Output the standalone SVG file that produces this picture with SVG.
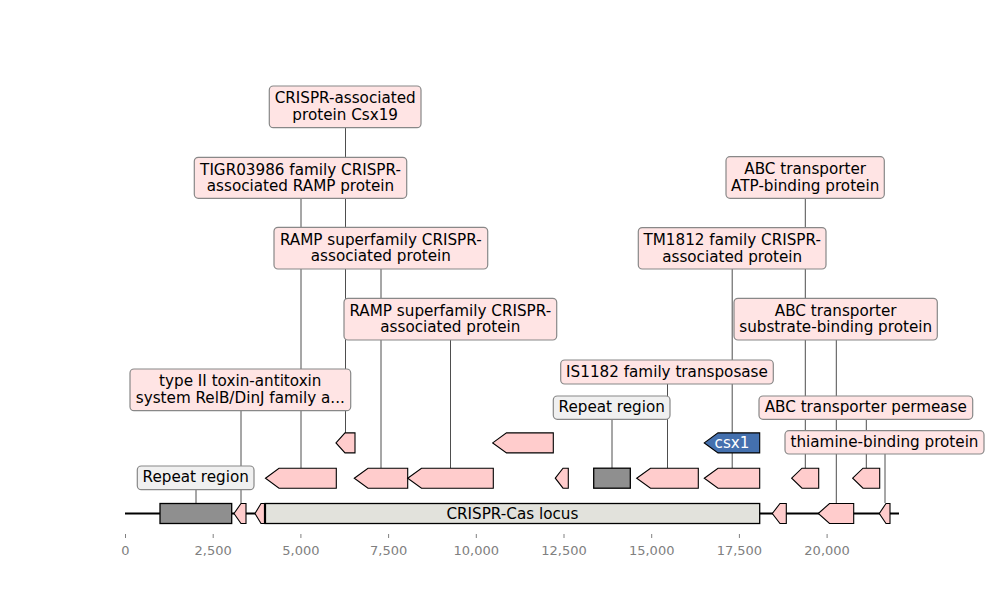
<svg xmlns="http://www.w3.org/2000/svg" width="1000" height="600" viewBox="0 0 1000 600">
<style>
text{font-family:"DejaVu Sans","Liberation Sans",sans-serif;}
.lbl{font-size:15.2px;fill:#000;text-anchor:middle;}
.box{fill:#ffe4e4;stroke:#888;stroke-width:1.2;}
.rbox{fill:#f0f0f0;stroke:#888;stroke-width:1.2;}
.gene{fill:#ffcccc;stroke:#000;stroke-width:1.1;stroke-linejoin:miter;}
.rep{fill:#8f8f8f;stroke:#000;stroke-width:1.3;}
.conn line{stroke:#3a3a3a;stroke-width:0.9;}
.tick{stroke:#808080;stroke-width:1;}
.tl{font-size:13px;fill:#808080;text-anchor:middle;}
</style>
<rect width="1000" height="600" fill="#fff"/>
<g id="connectors" class="conn">
<line x1="345.5" y1="127.7" x2="345.5" y2="433"/>
<line x1="301" y1="198.3" x2="301" y2="468"/>
<line x1="381" y1="269" x2="381" y2="468"/>
<line x1="450.5" y1="340" x2="450.5" y2="468"/>
<line x1="805.3" y1="198.3" x2="805.3" y2="468"/>
<line x1="732.2" y1="269" x2="732.2" y2="468"/>
<line x1="836.3" y1="340" x2="836.3" y2="503"/>
<line x1="241" y1="410.7" x2="241" y2="503"/>
<line x1="667.5" y1="384" x2="667.5" y2="468"/>
<line x1="612" y1="419.3" x2="612" y2="468"/>
<line x1="866.3" y1="419.3" x2="866.3" y2="468"/>
<line x1="885" y1="454" x2="885" y2="503"/>
<line x1="196" y1="489.7" x2="196" y2="503"/>
</g>
<g id="axis">
<line x1="125" y1="513.5" x2="899" y2="513.5" stroke="#000" stroke-width="2"/>
<g class="tick">
<line x1="125.5" y1="534" x2="125.5" y2="538"/>
<line x1="213.2" y1="534" x2="213.2" y2="538"/>
<line x1="300.9" y1="534" x2="300.9" y2="538"/>
<line x1="388.6" y1="534" x2="388.6" y2="538"/>
<line x1="476.3" y1="534" x2="476.3" y2="538"/>
<line x1="564" y1="534" x2="564" y2="538"/>
<line x1="651.7" y1="534" x2="651.7" y2="538"/>
<line x1="739.4" y1="534" x2="739.4" y2="538"/>
<line x1="827.1" y1="534" x2="827.1" y2="538"/>
</g>
<text class="tl" x="125.5" y="555">0</text>
<text class="tl" x="213.2" y="555">2,500</text>
<text class="tl" x="300.9" y="555">5,000</text>
<text class="tl" x="388.6" y="555">7,500</text>
<text class="tl" x="476.3" y="555">10,000</text>
<text class="tl" x="564" y="555">12,500</text>
<text class="tl" x="651.7" y="555">15,000</text>
<text class="tl" x="739.4" y="555">17,500</text>
<text class="tl" x="827.1" y="555">20,000</text>
</g>
<g id="features">
<rect id="repeat1" class="rep" x="160" y="503.5" width="71.7" height="20"/>
<polygon id="f-row1-a" class="gene" points="234,513.5 241,503.5 246,503.5 246,523.5 241,523.5"/>
<rect id="crispr-locus" x="265" y="503.5" width="494.7" height="20" fill="#e2e2dc" stroke="#000" stroke-width="1.3"/>
<polygon id="f-row1-b" class="gene" points="255,513.5 261,503.5 265,503.5 265,523.5 261,523.5"/>
<line x1="265" y1="503.5" x2="265" y2="523.5" stroke="#000" stroke-width="2.2"/>
<text x="512.4" y="518.8" style="font-size:15.2px;text-anchor:middle" fill="#000">CRISPR-Cas locus</text>
<polygon id="f-row1-c" class="gene" points="772.3,513.5 780,503.5 786.3,503.5 786.3,523.5 780,523.5"/>
<polygon id="f-row1-d" class="gene" points="818.3,513.5 829.5,503.5 853.7,503.5 853.7,523.5 829.5,523.5"/>
<polygon id="f-row1-e" class="gene" points="879.3,513.5 886,503.5 890,503.5 890,523.5 886,523.5"/>

<polygon id="f-row2-a" class="gene" points="265.5,478.2 279,468.2 336.3,468.2 336.3,488.2 279,488.2"/>
<polygon id="f-row2-b" class="gene" points="354.3,478.2 368,468.2 407.7,468.2 407.7,488.2 368,488.2"/>
<polygon id="f-row2-c" class="gene" points="407.7,478.2 421.5,468.2 493.3,468.2 493.3,488.2 421.5,488.2"/>
<polygon id="f-row2-d" class="gene" points="555.3,478.2 563,468.2 568.3,468.2 568.3,488.2 563,488.2"/>
<rect id="repeat2" class="rep" x="593.7" y="468.2" width="36.6" height="20"/>
<polygon id="f-row2-e" class="gene" points="636.7,478.2 650.5,468.2 698.3,468.2 698.3,488.2 650.5,488.2"/>
<polygon id="f-row2-f" class="gene" points="704.3,478.2 718,468.2 759.7,468.2 759.7,488.2 718,488.2"/>
<polygon id="f-row2-g" class="gene" points="791.7,478.2 802,468.2 818.7,468.2 818.7,488.2 802,488.2"/>
<polygon id="f-row2-h" class="gene" points="852.7,478.2 863,468.2 879.7,468.2 879.7,488.2 863,488.2"/>

<polygon id="f-row3-a" class="gene" points="336,442.9 345,432.9 355,432.9 355,452.9 345,452.9"/>
<polygon id="f-row3-b" class="gene" points="492.7,442.9 506.5,432.9 553.3,432.9 553.3,452.9 506.5,452.9"/>
<g id="csx1">
<polygon points="704.3,442.9 718,432.9 759.7,432.9 759.7,452.9 718,452.9" fill="#4470ae" stroke="#000" stroke-width="1.1"/>
<text x="732" y="448.2" style="font-size:15.2px;text-anchor:middle" fill="#fff">csx1</text>
</g>
</g>
<g id="label-csx19">
<rect class="box" x="269.3" y="86" width="151.7" height="41.7" rx="4"/>
<text class="lbl" x="345.2" y="103.3">CRISPR-associated</text>
<text class="lbl" x="345.2" y="120">protein Csx19</text>
</g>
<g id="label-tigr">
<rect class="box" x="194.3" y="157.3" width="212.4" height="41" rx="4"/>
<text class="lbl" x="300.5" y="174.6">TIGR03986 family CRISPR-</text>
<text class="lbl" x="300.5" y="191.3">associated RAMP protein</text>
</g>
<g id="label-ramp1">
<rect class="box" x="274" y="227.3" width="213.7" height="41.7" rx="4"/>
<text class="lbl" x="380.8" y="244.6">RAMP superfamily CRISPR-</text>
<text class="lbl" x="380.8" y="261.3">associated protein</text>
</g>
<g id="label-ramp2">
<rect class="box" x="344" y="298.3" width="212.7" height="41.7" rx="4"/>
<text class="lbl" x="450.3" y="315.6">RAMP superfamily CRISPR-</text>
<text class="lbl" x="450.3" y="332.3">associated protein</text>
</g>
<g id="label-abc-atp">
<rect class="box" x="726" y="156.7" width="158.3" height="41.6" rx="4"/>
<text class="lbl" x="805.2" y="174">ABC transporter</text>
<text class="lbl" x="805.2" y="190.7">ATP-binding protein</text>
</g>
<g id="label-tm1812">
<rect class="box" x="638.3" y="227.6" width="187.7" height="41.4" rx="4"/>
<text class="lbl" x="732.2" y="244.8">TM1812 family CRISPR-</text>
<text class="lbl" x="732.2" y="261.5">associated protein</text>
</g>
<g id="label-abc-substrate">
<rect class="box" x="734" y="298.3" width="203.3" height="41.7" rx="4"/>
<text class="lbl" x="835.7" y="315.6">ABC transporter</text>
<text class="lbl" x="835.7" y="332.3">substrate-binding protein</text>
</g>
<g id="label-typeii">
<rect class="box" x="130" y="369" width="220.7" height="41.7" rx="4"/>
<text class="lbl" x="240.3" y="386.3">type II toxin-antitoxin</text>
<text class="lbl" x="240.3" y="403">system RelB/DinJ family a...</text>
</g>
<g id="label-is1182">
<rect class="box" x="560.7" y="360" width="212.6" height="24" rx="4"/>
<text class="lbl" x="667" y="376.5">IS1182 family transposase</text>
</g>
<g id="label-repeat2">
<rect class="rbox" x="553.3" y="396" width="116.7" height="23.3" rx="4"/>
<text class="lbl" x="611.7" y="412.3">Repeat region</text>
</g>
<g id="label-permease">
<rect class="box" x="759" y="396" width="213.7" height="23.3" rx="4"/>
<text class="lbl" x="865.8" y="412.3">ABC transporter permease</text>
</g>
<g id="label-thiamine">
<rect class="box" x="785" y="430.7" width="199" height="23.3" rx="4"/>
<text class="lbl" x="884.5" y="447">thiamine-binding protein</text>
</g>
<g id="label-repeat1">
<rect class="rbox" x="137.3" y="466" width="116.7" height="23.7" rx="4"/>
<text class="lbl" x="195.7" y="482.3">Repeat region</text>
</g>
</svg>
